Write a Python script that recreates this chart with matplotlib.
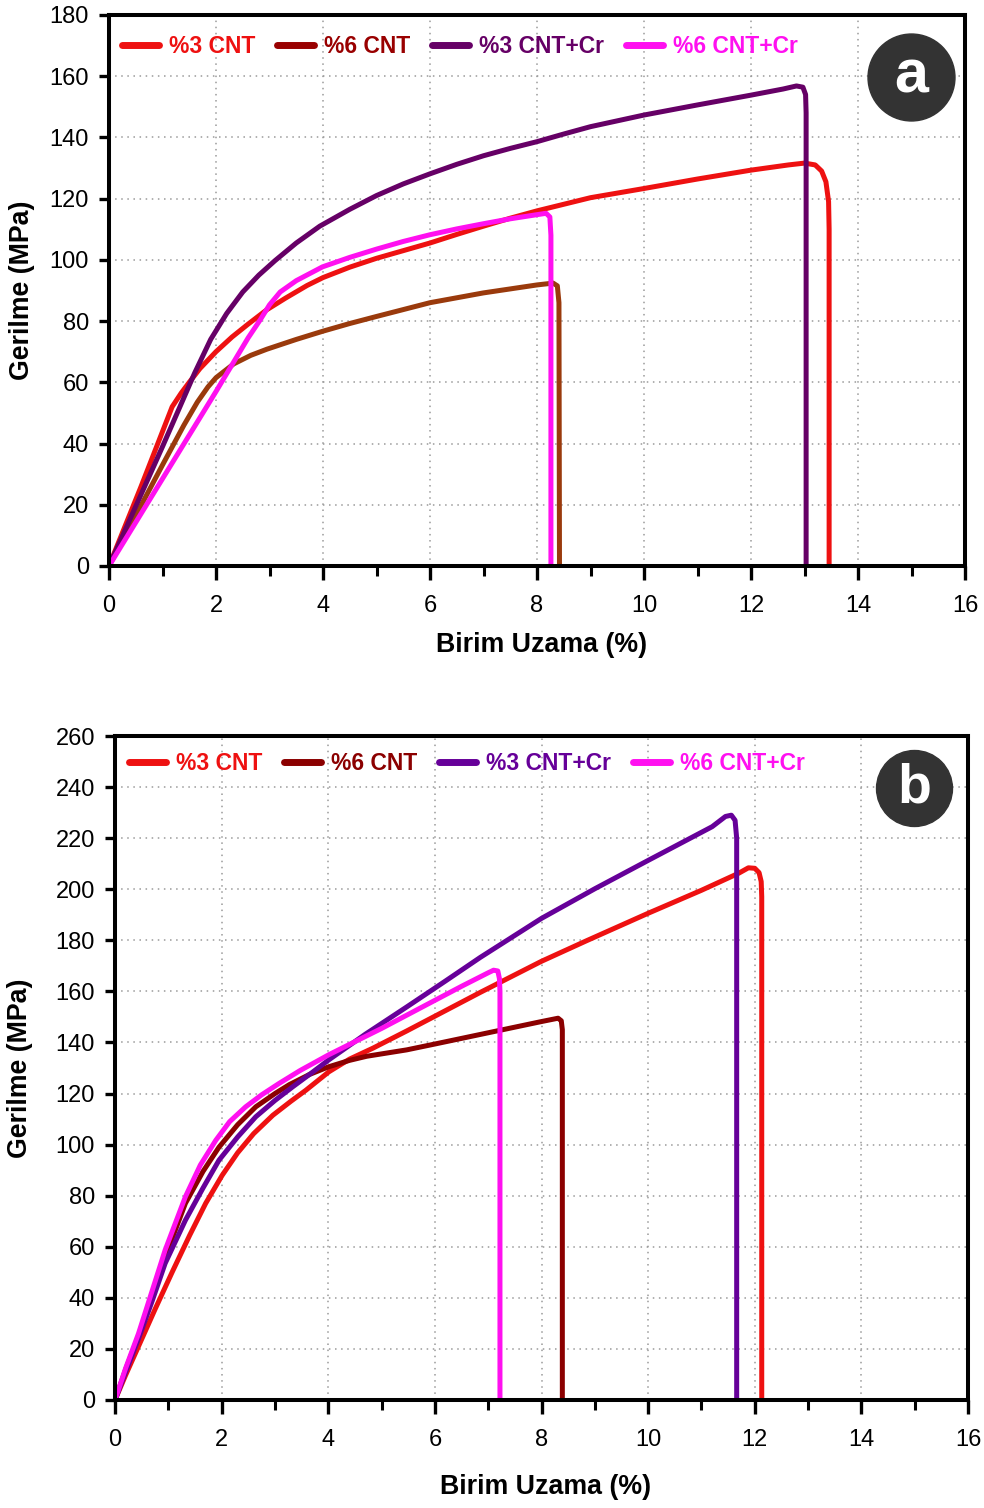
import matplotlib
matplotlib.use("Agg")
import matplotlib.pyplot as plt
from matplotlib.lines import Line2D
from matplotlib.font_manager import FontProperties

plt.rcParams['font.family'] = ['Liberation Sans', 'DejaVu Sans']

# ---------------- data : panel a ----------------
a_labels = ['%3 CNT', '%6 CNT', '%3 CNT+Cr', '%6 CNT+Cr']

a_3cnt_x = [0, 0.6, 1.18, 1.35, 1.5, 1.7, 2.0, 2.3, 2.6, 2.95, 3.3, 3.7, 4.0, 4.5, 5.0, 5.5, 6.0, 6.5, 7.0, 7.5, 8.0, 9.0, 10.0, 11.0, 12.0, 12.7, 13.0, 13.2, 13.32, 13.4, 13.45, 13.46, 13.46]
a_3cnt_y = [0, 26, 52, 56.5, 60, 64.5, 70, 74.8, 79, 83.7, 87.5, 91.6, 94.2, 97.6, 100.5, 103, 105.5, 108.3, 111, 113.6, 116, 120.3, 123.3, 126.4, 129.3, 131, 131.6, 131, 129, 125.5, 119, 110, 0]

a_6cnt_x = [0, 0.5, 1.0, 1.4, 1.65, 1.85, 2.0, 2.33, 2.65, 2.95, 3.5, 4.0, 4.5, 5.0, 6.0, 7.0, 8.0, 8.3, 8.38, 8.41, 8.42]
a_6cnt_y = [0, 16.5, 33, 46, 53.5, 58.5, 61.5, 66, 68.8, 70.8, 74, 76.7, 79.2, 81.5, 86, 89.2, 91.8, 92.4, 91.5, 86, 0]

a_3cr_x = [0, 0.5, 1.0, 1.3, 1.6, 1.9, 2.2, 2.5, 2.8, 3.1, 3.5, 3.94, 4.5, 5.0, 5.5, 6.0, 6.5, 7.0, 7.5, 8.0, 8.5, 9.0, 10.0, 11.0, 12.0, 12.6, 12.85, 12.97, 13.02, 13.03, 13.03]
a_3cr_y = [0, 19.5, 39, 51, 63, 74, 82.5, 89.5, 95, 99.7, 105.5, 111, 116.5, 121, 124.8, 128.1, 131.2, 134, 136.4, 138.6, 141.1, 143.5, 147.3, 150.6, 153.8, 155.8, 156.8, 156.4, 154, 148, 0]

a_6cr_x = [0, 1.0, 2.0, 2.6, 2.83, 3.0, 3.2, 3.5, 3.99, 4.5, 5.0, 5.5, 6.0, 6.5, 7.0, 7.5, 7.98, 8.17, 8.24, 8.26, 8.26]
a_6cr_y = [0, 28.5, 57, 74.5, 80.5, 85.3, 89.5, 93.2, 97.7, 100.8, 103.5, 106, 108.2, 110.1, 111.8, 113.4, 114.7, 115.2, 114, 108, 0]

# ---------------- data : panel b ----------------
b_labels = ['%3 CNT', '%6 CNT', '%3 CNT+Cr', '%6 CNT+Cr']

b_3cnt_x = [0, 0.2, 0.44, 0.75, 1.07, 1.4, 1.7, 2.01, 2.3, 2.6, 2.96, 3.3, 3.58, 4.01, 4.4, 4.84, 5.47, 6.0, 6.85, 8.0, 8.84, 10.0, 11.0, 11.7, 11.88, 12.0, 12.08, 12.12, 12.13, 12.13]
b_3cnt_y = [0, 9.8, 21, 35.5, 50, 64.5, 77, 88, 96.8, 104.3, 111.5, 117, 121.3, 128.5, 133.5, 137.8, 144.5, 150.3, 159.6, 171.8, 179.8, 190.6, 199.6, 206.3, 208.4, 208.2, 206.5, 203, 197, 0]

b_6cnt_x = [0, 0.2, 0.44, 0.7, 0.94, 1.32, 1.65, 1.95, 2.3, 2.64, 3.0, 3.27, 3.65, 4.01, 4.4, 4.72, 5.47, 6.0, 7.0, 8.0, 8.31, 8.37, 8.39, 8.39]
b_6cnt_y = [0, 12, 25, 41, 56, 77, 89.5, 99, 107.8, 114.8, 120, 123.5, 127.5, 130.5, 133, 134.6, 137.1, 139.4, 143.8, 148.2, 149.5, 148.5, 145, 0]

b_3cr_x = [0, 0.2, 0.44, 0.7, 0.94, 1.32, 1.65, 1.95, 2.3, 2.64, 3.0, 3.33, 3.7, 4.01, 4.7, 5.47, 6.2, 6.85, 8.0, 9.0, 10.0, 11.2, 11.45, 11.56, 11.63, 11.66, 11.66]
b_3cr_y = [0, 11, 24, 39, 53.5, 70.4, 83, 93.9, 103, 110.9, 117.3, 122.6, 128.3, 133.2, 143.3, 153.9, 164.1, 173.3, 188.6, 200.2, 211.3, 224.5, 228.5, 229.0, 227, 220, 0]

b_6cr_x = [0, 0.2, 0.44, 0.7, 0.94, 1.32, 1.6, 1.89, 2.15, 2.45, 2.75, 3.08, 3.47, 4.01, 4.47, 5.0, 5.5, 6.0, 6.5, 7.0, 7.1, 7.18, 7.21, 7.22, 7.22]
b_6cr_y = [0, 12.5, 26, 43, 58.7, 79.6, 92, 101.7, 109, 114.8, 119.5, 124, 129, 135.2, 140, 145.5, 151, 156.5, 162.0, 167.3, 168.3, 168.0, 165, 160, 0]

xticks = list(range(0, 17, 2))
a_yticks = list(range(0, 181, 20))
b_yticks = list(range(0, 261, 20))

a_line_colors = ['#ee1111', '#9a3a0c', '#660066', '#ff10f0']
a_leg_colors = ['#ee1111', '#990000', '#660066', '#ff10f0']
b_line_colors = ['#ee1111', '#8b0000', '#660099', '#ff10f0']
b_leg_colors = ['#ee1111', '#8b0000', '#660099', '#ff10f0']

fig = plt.figure(figsize=(9.84, 15.08), dpi=100)
ax1 = fig.add_axes([0.1108, 0.6247, 0.8699, 0.3654])
ax2 = fig.add_axes([0.1169, 0.07162, 0.8669, 0.4403])

bold = FontProperties(family='Liberation Sans', weight='bold', size=16.5)


def style(ax, ymax, yticks):
    ax.set_xlim(0, 16)
    ax.set_ylim(0, ymax)
    ax.set_xticks(xticks)
    ax.set_xticks(range(0, 17), minor=True)
    ax.set_yticks(yticks)
    ax.grid(True, which='major', linestyle=(0, (1, 3)), color='#9a9a9a', lw=1.1)
    ax.set_axisbelow(True)
    for s in ax.spines.values():
        s.set_linewidth(2.9)
    ax.tick_params(axis='both', which='major', direction='out', width=2.4, labelsize=17)
    ax.tick_params(axis='x', which='major', length=10, pad=11)
    ax.tick_params(axis='y', which='major', length=7, pad=7.5)
    ax.tick_params(axis='x', which='minor', direction='out', length=7.5, width=2.2)


def panel(ax, xs, ys, lcolors, legcolors, labels, ymax, yticks, leg_xy, circ_xy, circ_ms, letter, letter_size, xlab_y, ylab_x):
    style(ax, ymax, yticks)
    for x, y, c in zip(xs, ys, lcolors):
        ax.plot(x, y, color=c, lw=3.6, solid_joinstyle='round', solid_capstyle='round')
    handles = [Line2D([], [], color=c, lw=5, solid_capstyle='round') for c in legcolors]
    leg = ax.legend(handles, labels, loc='center left', bbox_to_anchor=leg_xy, ncol=4, frameon=False,
                    handlelength=1.6, handletextpad=0.45, columnspacing=0.95, borderpad=0,
                    borderaxespad=0, prop=bold)
    for t, c in zip(leg.get_texts(), legcolors):
        t.set_color(c)
    ax.plot([circ_xy[0]], [circ_xy[1]], marker='o', ms=circ_ms, color='#333333', mec='#333333',
            transform=ax.transAxes, clip_on=False, zorder=5)
    ax.text(circ_xy[0], circ_xy[1], letter, transform=ax.transAxes, ha='center', va='center',
            color='white', fontsize=letter_size, fontweight='bold', zorder=6)
    ax.set_xlabel('Birim Uzama (%)', fontsize=19.3, fontweight='bold')
    ax.xaxis.set_label_coords(0.505, xlab_y)
    ax.xaxis.label.set_va('center')
    ax.set_ylabel('Gerilme (MPa)', fontsize=19.3, fontweight='bold')
    ax.yaxis.set_label_coords(ylab_x, 0.5)
    ax.yaxis.label.set_va('center')


panel(ax1,
      [a_3cnt_x, a_6cnt_x, a_3cr_x, a_6cr_x],
      [a_3cnt_y, a_6cnt_y, a_3cr_y, a_6cr_y],
      a_line_colors, a_leg_colors, a_labels, 180, a_yticks,
      (0.0152, 0.942), (0.937, 0.8875), 62.6, 'a', 44, -0.1434, -0.1016)

panel(ax2,
      [b_3cnt_x, b_6cnt_x, b_3cr_x, b_6cr_x],
      [b_3cnt_y, b_6cnt_y, b_3cr_y, b_6cr_y],
      b_line_colors, b_leg_colors, b_labels, 260, b_yticks,
      (0.0164, 0.959), (0.937, 0.9217), 54.7, 'b', 40, -0.131, -0.111)

fig.savefig('out.png', dpi=100)
